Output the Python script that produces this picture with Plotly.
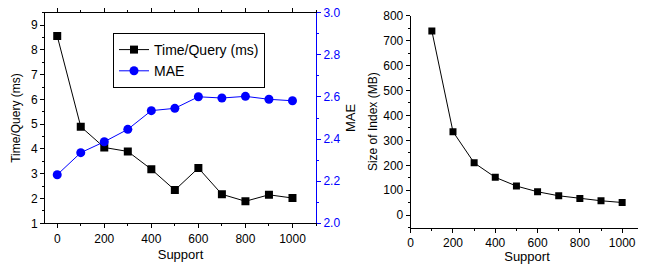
import plotly.graph_objects as go

support = [0, 100, 200, 300, 400, 500, 600, 700, 800, 900, 1000]
time_query = [8.56, 4.90, 4.06, 3.90, 3.18, 2.34, 3.23, 2.17, 1.89, 2.15, 2.02]
mae = [2.23, 2.335, 2.387, 2.446, 2.535, 2.546, 2.601, 2.595, 2.603, 2.589, 2.582]
mae_ticks = [2.0, 2.2, 2.4, 2.6, 2.8, 3.0]

support2 = [100, 200, 300, 400, 500, 600, 700, 800, 900, 1000]
index_size = [739, 335, 210, 152, 117, 94, 78, 67, 58, 51]

FONT = "Liberation Sans, Arial, sans-serif"
# the page body adds an 8px offset, so the figure is 8px smaller and shifted
OFF = 8
W, H = 646 - OFF, 264 - OFF

def px(x):
    return (x - OFF) / W

def py(y):
    return 1 - (y - OFF) / H

fig = go.Figure()
fig.add_trace(go.Scatter(x=support, y=time_query, name="Time/Query (ms)", mode="lines+markers",
                         line=dict(color="black", width=1),
                         marker=dict(symbol="square", size=8, color="black"),
                         xaxis="x", yaxis="y"))
fig.add_trace(go.Scatter(x=support, y=mae, name="MAE", mode="lines+markers",
                         line=dict(color="#0000ff", width=1),
                         marker=dict(symbol="circle", size=9, color="#0000ff"),
                         xaxis="x", yaxis="y2"))
fig.add_trace(go.Scatter(x=support2, y=index_size, name="Size of Index", mode="lines+markers",
                         line=dict(color="black", width=1),
                         marker=dict(symbol="square", size=7, color="black"),
                         xaxis="x3", yaxis="y3", showlegend=False))

axfont = dict(family=FONT, size=12, color="black")
titlefont = dict(family=FONT, size=13, color="black")
common = dict(showgrid=False, zeroline=False, showline=True, linecolor="black", linewidth=1,
              ticks="outside", ticklen=4, tickcolor="black", tickfont=axfont, automargin=False)

fig.update_layout(
    width=W, height=H, margin=dict(l=0, r=0, t=0, b=0),
    paper_bgcolor="white", plot_bgcolor="white",
    font=dict(family=FONT, size=12, color="black"),
    xaxis=dict(domain=[px(45), px(316)], range=[-52, 1100], tickvals=[0, 200, 400, 600, 800, 1000],
               mirror="ticks", minor=dict(dtick=100, tick0=0, ticks="outside", ticklen=2, tickcolor="black"),
               title=dict(text="Support", font=titlefont, standoff=5), anchor="y", **common),
    yaxis=dict(domain=[py(223.3), py(12.7)], range=[1, 9.5], dtick=1, anchor="x",
               minor=dict(dtick=0.5, ticks="outside", ticklen=2, tickcolor="black"),
               title=dict(text="Time/Query (ms)", font=axfont, standoff=7), **common),
    yaxis2=dict(overlaying="y", side="right", anchor="x", range=[1.999, 3.001],
                tickvals=mae_ticks, ticktext=[f"{v:.1f}" for v in mae_ticks],
                showgrid=False, zeroline=False, showline=True, linecolor="#0000ff", linewidth=1,
                ticks="outside", ticklen=4, tickcolor="#0000ff", automargin=False,
                ticklabeloverflow="allow",
                tickfont=dict(family=FONT, size=12, color="#0000ff"),
                minor=dict(dtick=0.1, tick0=2.0, ticks="outside", ticklen=2, tickcolor="#0000ff"),
                title=dict(text="MAE", font=titlefont, standoff=6)),
    xaxis3=dict(domain=[px(410.7), px(643.3)], range=[0, 1100], tickvals=[0, 200, 400, 600, 800, 1000],
                anchor="y3",
                minor=dict(dtick=100, tick0=0, ticks="outside", ticklen=2, tickcolor="black"),
                title=dict(text="Support", font=titlefont, standoff=5), **common),
    yaxis3=dict(domain=[py(227.7), py(15.7)], range=[-50, 800], dtick=100, anchor="x3",
                minor=dict(dtick=50, ticks="outside", ticklen=2, tickcolor="black"),
                title=dict(text="Size of Index (MB)", font=axfont, standoff=3), **common),
    legend=dict(x=px(113), y=py(33), xanchor="left", yanchor="top",
                bgcolor="white", bordercolor="black", borderwidth=1, itemwidth=30,
                font=dict(family=FONT, size=14, color="black"), tracegroupgap=0),
    showlegend=True,
)

fig.write_html("out.html")
